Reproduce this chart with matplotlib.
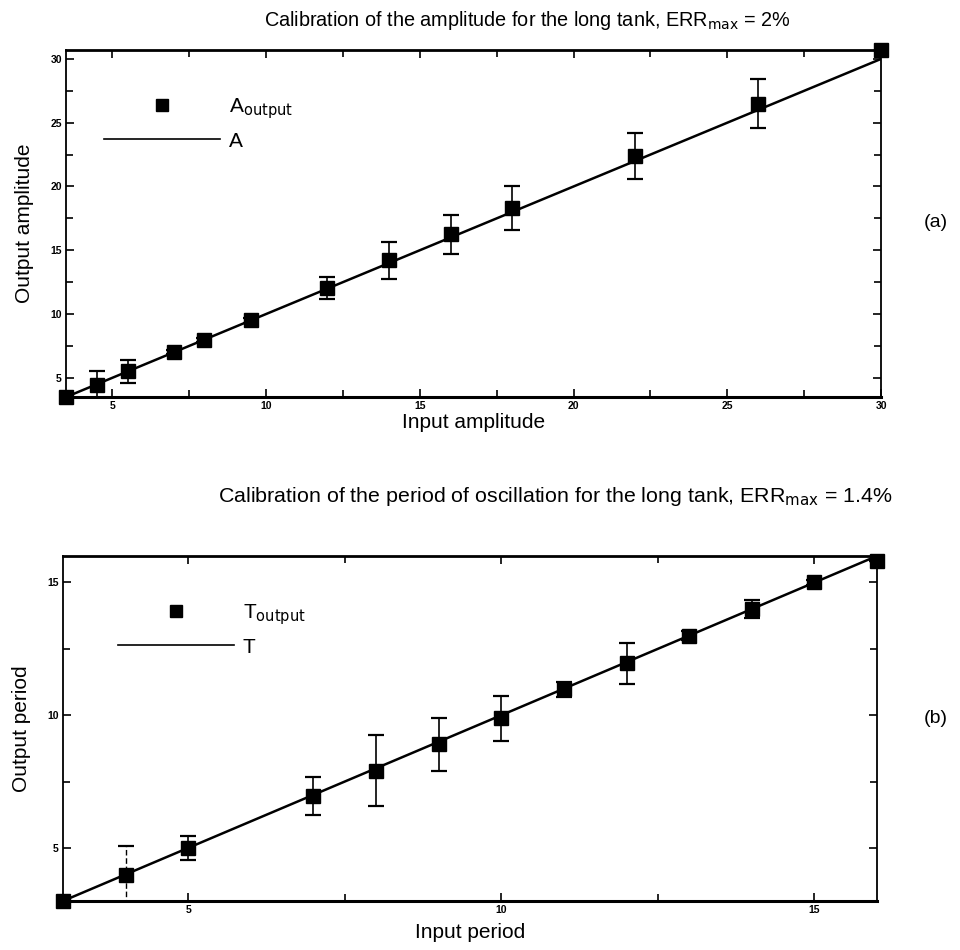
import numpy as np
import matplotlib
matplotlib.use("Agg")
import matplotlib.pyplot as plt
from matplotlib.ticker import MultipleLocator
from matplotlib.lines import Line2D

plt.rcParams['font.family'] = ['Liberation Sans', 'DejaVu Sans']

# (a) amplitude calibration
amp_in = [3.5, 4.5, 5.5, 7.0, 8.0, 9.5, 12.0, 14.0, 16.0, 18.0, 22.0, 26.0, 30.0]
amp_out = [3.5, 4.45, 5.5, 7.0, 8.0, 9.5, 12.05, 14.2, 16.25, 18.3, 22.4, 26.5, 30.7]
amp_err = [0.0, 1.1, 0.9, 0.15, 0.15, 0.2, 0.85, 1.42, 1.55, 1.7, 1.8, 1.9, 0.0]
amp_ideal = [3.5, 30.0]

# (b) period calibration
per_in = [3, 4, 5, 7, 8, 9, 10, 11, 12, 13, 14, 15, 16]
per_out = [3.0, 3.97, 5.0, 6.95, 7.9, 8.9, 9.88, 10.97, 11.95, 13.0, 14.0, 15.0, 15.8]
per_err = [0.0, 1.12, 0.44, 0.72, 1.34, 1.0, 0.86, 0.28, 0.76, 0.18, 0.35, 0.1, 0.0]
per_ideal = [3.0, 16.0]
dashed_idx = [1]  # error bar drawn dashed in the original


def style_axes(ax, xlim, ylim):
    ax.set_xlim(*xlim)
    ax.set_ylim(*ylim)
    ax.xaxis.set_major_locator(MultipleLocator(5))
    ax.yaxis.set_major_locator(MultipleLocator(5))
    ax.xaxis.set_minor_locator(MultipleLocator(2.5))
    ax.yaxis.set_minor_locator(MultipleLocator(2.5))
    ax.tick_params(which='both', direction='in', top=True, right=True,
                   width=1.2, labelsize=7.5, pad=3)
    ax.tick_params(which='major', length=6)
    ax.tick_params(which='minor', length=5)
    for lab in ax.get_xticklabels() + ax.get_yticklabels():
        lab.set_fontweight('bold')
    ax.spines['bottom'].set_linewidth(2.2)
    ax.spines['top'].set_linewidth(2.0)
    ax.spines['left'].set_linewidth(1.3)
    ax.spines['right'].set_linewidth(1.3)


def draw_panel(ax, x, y, err, ideal, dashed=()):
    ax.plot(ideal, ideal, color='black', lw=1.8, zorder=2)
    solid = [i for i in range(len(x)) if i not in dashed]
    ax.errorbar([x[i] for i in solid], [y[i] for i in solid],
                yerr=[err[i] for i in solid], fmt='none', ecolor='black',
                elinewidth=1.2, capsize=6, capthick=1.6, zorder=3)
    for i in dashed:
        _, _, bars = ax.errorbar([x[i]], [y[i]], yerr=[err[i]], fmt='none',
                                 ecolor='black', elinewidth=1.0, capsize=6,
                                 capthick=1.6, zorder=3)
        for b in bars:
            b.set_linestyle((0, (4, 2)))
    ax.plot(x, y, 's', color='black', ms=9.5, clip_on=False, zorder=4)


fig = plt.figure(figsize=(9.6, 9.5), dpi=100)

ax1 = fig.add_axes([0.0688, 0.5821, 0.849, 0.3653])
draw_panel(ax1, amp_in, amp_out, amp_err, amp_ideal)
style_axes(ax1, (3.5, 30), (3.5, 30.7))
ax1.set_xlabel('Input amplitude', fontsize=15, labelpad=1.5)
ax1.set_ylabel('Output amplitude', fontsize=15, labelpad=12)
h1 = [Line2D([], [], ls='none', marker='s', color='black', ms=8),
      Line2D([], [], color='black', lw=1.2)]
ax1.legend(h1, ['A$_{\\mathrm{output}}$', 'A'], loc='upper left',
           bbox_to_anchor=(0.023, 0.92), frameon=False, fontsize=15,
           handlelength=5.6, handletextpad=0.4, labelspacing=0.5)

ax2 = fig.add_axes([0.0656, 0.0516, 0.848, 0.3632])
draw_panel(ax2, per_in, per_out, per_err, per_ideal, dashed=dashed_idx)
style_axes(ax2, (3, 16), (3, 16))
ax2.set_xlabel('Input period', fontsize=15, labelpad=6)
ax2.set_ylabel('Output period', fontsize=15, labelpad=12)
h2 = [Line2D([], [], ls='none', marker='s', color='black', ms=8),
      Line2D([], [], color='black', lw=1.2)]
ax2.legend(h2, ['T$_{\\mathrm{output}}$', 'T'], loc='upper left',
           bbox_to_anchor=(0.044, 0.92), frameon=False, fontsize=15,
           handlelength=5.6, handletextpad=0.4, labelspacing=0.5)

fig.text(0.549, 0.978, 'Calibration of the amplitude for the long tank, '
         'ERR$_{\\mathrm{max}}$ = 2%', ha='center', va='center', fontsize=14.3)
fig.text(0.578, 0.477, 'Calibration of the period of oscillation for the long tank, '
         'ERR$_{\\mathrm{max}}$ = 1.4%', ha='center', va='center', fontsize=15.4)
fig.text(0.975, 0.766, '(a)', ha='center', va='center', fontsize=14)
fig.text(0.975, 0.244, '(b)', ha='center', va='center', fontsize=14)

fig.savefig('out.png', dpi=100)
